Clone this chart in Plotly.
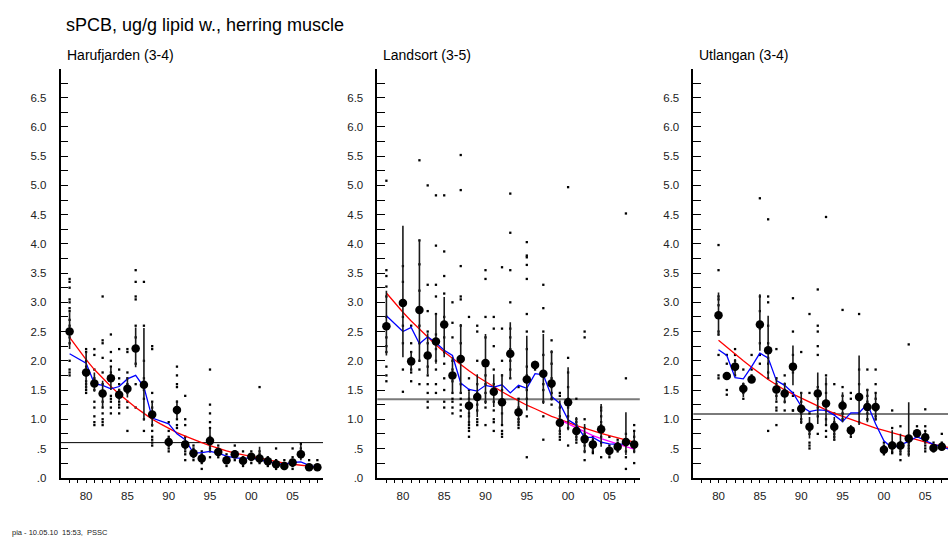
import plotly.graph_objects as go

# ---------------- data ----------------
title_text = "sPCB, ug/g lipid w., herring muscle"
panel_titles = ["Harufjarden (3-4)", "Landsort (3-5)", "Utlangan (3-4)"]
footer_text = "pia - 10.05.10\u00a0\u00a015:53,\u00a0\u00a0PSSC"

x_tick_vals = [1980, 1985, 1990, 1995, 2000, 2005]
x_tick_text = ["80", "85", "90", "95", "00", "05"]
x_minor_vals = list(range(1978, 2009))
y_tick_vals = [0, 0.5, 1.0, 1.5, 2.0, 2.5, 3.0, 3.5, 4.0, 4.5, 5.0, 5.5, 6.0, 6.5]
y_tick_text = [".0", ".5", "1.0", "1.5", "2.0", "2.5", "3.0", "3.5", "4.0", "4.5", "5.0", "5.5", "6.0", "6.5"]
y_minor_vals = [0.25, 0.75, 1.25, 1.75, 2.25, 2.75, 3.25, 3.75, 4.25, 4.75, 5.25, 5.75, 6.25, 6.75]

# ---- Harufjarden ----
h_years = [1978, 1980, 1981, 1982, 1983, 1984, 1985, 1986, 1987, 1988,
           1990, 1991, 1992, 1993, 1994, 1995, 1996, 1997, 1998, 1999,
           2000, 2001, 2002, 2003, 2004, 2005, 2006, 2007, 2008]
h_mean = [2.50, 1.80, 1.61, 1.44, 1.70, 1.42, 1.52, 2.21, 1.59, 1.08,
          0.61, 1.16, 0.57, 0.42, 0.33, 0.63, 0.44, 0.30, 0.40, 0.29,
          0.36, 0.33, 0.28, 0.23, 0.20, 0.26, 0.40, 0.18, 0.18]
h_hi = [2.83, 2.15, 1.80, 1.66, 1.89, 1.52, 1.72, 2.57, 2.56, 1.30,
        0.70, 1.32, 0.68, 0.50, 0.40, 0.84, 0.50, 0.34, 0.45, 0.34,
        0.42, 0.53, 0.33, 0.27, 0.25, 0.30, 0.56, 0.22, 0.22]
h_lo = [2.20, 1.52, 1.47, 1.21, 1.50, 1.32, 1.37, 1.89, 0.98, 0.87,
        0.52, 1.01, 0.48, 0.36, 0.27, 0.45, 0.38, 0.26, 0.35, 0.25,
        0.31, 0.25, 0.24, 0.19, 0.17, 0.22, 0.30, 0.15, 0.14]
h_samples = [
    [3.4, 3.35, 3.25, 3.05, 3.0, 2.9, 2.85, 2.7, 2.6, 2.4, 2.3, 2.0, 1.85, 1.8, 1.75],
    [2.2, 2.15, 2.0, 1.9, 1.75, 1.65, 1.6, 1.55, 1.5, 1.45],
    [2.2, 2.1, 1.85, 1.7, 1.6, 1.5, 1.3, 1.2, 1.05, 0.95, 0.9],
    [3.1, 2.35, 2.3, 2.05, 1.8, 1.6, 1.3, 1.2, 1.1, 1.0, 0.95, 0.9],
    [2.45, 2.15, 2.0, 1.9, 1.8, 1.4, 1.35, 1.3, 1.2, 1.1],
    [2.2, 1.85, 1.7, 1.6, 1.5, 1.4, 1.3, 1.25, 1.2, 1.1],
    [2.2, 2.15, 1.8, 1.7, 1.6, 1.45, 1.3, 1.2, 0.8],
    [3.55, 3.35, 3.1, 3.05, 2.6, 2.4, 2.2, 1.95, 1.6, 1.2],
    [3.35, 2.6, 2.0, 1.7, 1.5, 1.35, 1.0, 0.8],
    [2.25, 2.2, 1.45, 1.3, 1.2, 1.1, 0.9, 0.8, 0.7, 0.65, 0.6, 0.55],
    [0.95, 0.8, 0.7, 0.65, 0.6, 0.55, 0.5, 0.45],
    [1.9, 1.75, 1.6, 1.55, 1.3, 1.2, 1.1, 1.0, 0.9, 0.85],
    [1.4, 1.0, 0.9, 0.7, 0.55, 0.5, 0.45, 0.4, 0.3],
    [0.55, 0.5, 0.45, 0.4, 0.35, 0.3],
    [0.45, 0.4, 0.35, 0.3, 0.25, 0.15],
    [1.85, 1.25, 1.1, 0.95, 0.85, 0.7, 0.55, 0.5, 0.45, 0.35],
    [0.55, 0.5, 0.45, 0.4, 0.35],
    [0.4, 0.35, 0.3, 0.25, 0.2],
    [0.55, 0.45, 0.4, 0.35, 0.3],
    [0.45, 0.35, 0.3, 0.25, 0.2],
    [0.45, 0.4, 0.35, 0.3, 0.25],
    [1.55, 0.45, 0.4, 0.35, 0.3, 0.25],
    [0.35, 0.3, 0.25, 0.2],
    [0.5, 0.3, 0.25, 0.2, 0.15],
    [0.3, 0.25, 0.2, 0.15],
    [0.5, 0.35, 0.3, 0.25, 0.2, 0.15],
    [0.58, 0.5, 0.45, 0.4, 0.35],
    [0.3, 0.2, 0.15],
    [0.3, 0.2, 0.15],
]
h_blue = [2.12, 1.96, 1.61, 1.58, 1.52, 1.56, 1.69, 1.75, 1.55, 1.02,
          0.92, 0.75, 0.65, 0.42, 0.43, 0.45, 0.42, 0.37, 0.34, 0.33,
          0.34, 0.31, 0.27, 0.24, 0.23, 0.26, 0.27, 0.21, 0.18]
h_red_years = list(range(1978, 2009))
h_red = [2.40, 2.20, 2.02, 1.85, 1.70, 1.56, 1.43, 1.31, 1.20, 1.10,
         1.00, 0.92, 0.84, 0.77, 0.71, 0.65, 0.60, 0.55, 0.50, 0.46,
         0.42, 0.39, 0.36, 0.33, 0.30, 0.27, 0.25, 0.23, 0.21, 0.19, 0.18]
h_ref = 0.60

# ---- Landsort ----
l_years = [1978, 1980, 1981, 1982, 1983, 1984, 1985, 1986, 1987, 1988,
           1989, 1990, 1991, 1992, 1993, 1994, 1995, 1996, 1997, 1998,
           1999, 2000, 2001, 2002, 2003, 2004, 2005, 2006, 2007, 2008]
l_mean = [2.59, 2.99, 1.99, 2.87, 2.09, 2.33, 2.62, 1.75, 2.03, 1.23,
          1.38, 1.96, 1.47, 1.29, 2.12, 1.12, 1.68, 1.93, 1.78, 1.61,
          0.94, 1.29, 0.80, 0.66, 0.57, 0.83, 0.46, 0.53, 0.61, 0.57]
l_hi = [3.20, 4.31, 2.16, 4.06, 2.47, 2.80, 3.09, 2.06, 2.63, 1.48,
        1.77, 2.46, 1.77, 1.77, 2.66, 1.35, 2.43, 2.00, 2.46, 2.18,
        1.32, 1.89, 1.04, 0.92, 0.68, 1.26, 0.52, 0.58, 1.12, 0.78]
l_lo = [2.09, 2.06, 1.83, 2.00, 1.77, 1.95, 2.06, 1.46, 1.44, 0.92,
        1.04, 1.26, 1.21, 0.92, 1.69, 0.92, 1.15, 1.88, 1.26, 1.32,
        0.73, 0.81, 0.64, 0.42, 0.45, 0.53, 0.38, 0.47, 0.39, 0.42]
l_samples = [
    [5.08, 3.55, 3.45, 3.27, 3.1, 2.75, 2.55, 2.4, 2.25, 2.15, 1.9, 1.75, 1.65],
    [3.62, 3.35, 3.0, 2.75, 2.6, 2.3, 1.85, 1.47],
    [2.6, 2.3, 2.15, 2.05, 1.85, 1.8, 1.65],
    [5.43, 4.06, 3.65, 3.2, 2.9, 2.6, 2.3, 2.0, 1.85, 1.6],
    [5.0, 3.3, 2.85, 2.5, 2.3, 2.05, 1.9, 1.75, 1.6, 1.45, 1.3, 1.2],
    [4.83, 3.97, 3.3, 3.1, 2.8, 2.45, 2.2, 2.0, 1.85, 1.6, 1.45],
    [4.83, 3.87, 3.45, 3.15, 2.75, 2.4, 2.15, 1.95, 1.7, 1.5, 1.3, 1.2],
    [3.0, 2.65, 2.4, 2.0, 1.85, 1.65, 1.45, 1.35, 1.3, 1.2, 1.1],
    [5.52, 4.92, 3.62, 3.1, 3.05, 2.6, 2.3, 2.0, 1.6, 1.45, 1.35, 1.25, 1.15, 1.05],
    [2.75, 1.7, 1.5, 1.35, 1.2, 1.1, 1.05, 0.95, 0.9, 0.85, 0.8, 0.7],
    [2.6, 2.5, 2.0, 1.6, 1.45, 1.35, 1.25, 1.15, 1.0, 0.95, 0.9],
    [3.55, 3.4, 2.75, 2.4, 1.95, 1.75, 1.6, 1.45, 1.3, 1.2, 0.9],
    [2.75, 2.55, 2.25, 1.85, 1.6, 1.45, 1.3, 1.15, 1.0, 0.95, 0.8],
    [3.6, 2.55, 2.0, 1.75, 1.5, 1.3, 1.1, 0.9, 0.8, 0.75, 0.7],
    [4.86, 4.19, 3.55, 3.0, 2.55, 2.4, 2.2, 2.0, 1.85, 1.7],
    [1.55, 1.35, 1.2, 1.1, 1.0, 0.95, 0.9, 0.85],
    [4.03, 3.8, 3.77, 3.64, 3.4, 2.8, 2.5, 2.2, 1.9, 1.75, 1.5, 1.35, 1.05, 0.35],
    [1.95, 1.9, 1.85],
    [3.3, 2.9, 2.5, 2.1, 1.8, 1.6, 1.5, 1.3, 1.05, 0.65],
    [2.35, 2.15, 1.95, 1.7, 1.55, 1.45, 1.35, 1.25],
    [1.45, 1.4, 1.2, 1.05, 0.9, 0.8, 0.75, 0.7, 0.65],
    [4.97, 2.05, 1.8, 1.55, 1.35, 1.2, 1.05, 0.95, 0.85, 0.55],
    [1.35, 1.0, 0.95, 0.9, 0.85, 0.8, 0.75, 0.7, 0.65, 0.6],
    [2.5, 2.4, 1.0, 0.85, 0.75, 0.7, 0.65, 0.6, 0.55, 0.45, 0.3],
    [0.7, 0.65, 0.6, 0.55, 0.5, 0.45, 0.42],
    [1.2, 1.15, 1.05, 0.95, 0.9, 0.8, 0.7, 0.6, 0.35],
    [0.7, 0.55, 0.5, 0.45, 0.4, 0.35],
    [0.65, 0.6, 0.55, 0.5, 0.45],
    [4.52, 1.7, 0.75, 0.65, 0.55, 0.45, 0.35, 0.15],
    [0.9, 0.8, 0.7, 0.6, 0.5, 0.45, 0.25],
]
l_blue = [2.77, 2.50, 2.57, 2.29, 2.41, 2.31, 2.18, 2.09, 1.62, 1.51,
          1.48, 1.58, 1.55, 1.59, 1.45, 1.58, 1.53, 1.78, 1.76, 1.39,
          1.27, 0.99, 0.90, 0.69, 0.69, 0.61, 0.58, 0.57, 0.58, 0.59]
l_red_years = list(range(1978, 2009))
l_red = [3.16, 2.99, 2.83, 2.68, 2.54, 2.40, 2.27, 2.15, 2.04, 1.93,
         1.83, 1.73, 1.64, 1.55, 1.47, 1.39, 1.31, 1.24, 1.18, 1.11,
         1.05, 1.00, 0.94, 0.89, 0.85, 0.80, 0.76, 0.72, 0.68, 0.64, 0.61]
l_mag_years = list(range(1999, 2009))
l_mag = [0.99, 0.92, 0.85, 0.78, 0.72, 0.67, 0.62, 0.57, 0.53, 0.49]
l_ref = 1.34

# ---- Utlangan ----
u_years = list(range(1980, 2009))
u_mean = [2.78, 1.74, 1.90, 1.52, 1.68, 2.62, 2.18, 1.51, 1.44, 1.90,
          1.18, 0.87, 1.44, 1.27, 0.87, 1.23, 0.81, 1.38, 1.21, 1.21,
          0.48, 0.55, 0.55, 0.67, 0.76, 0.69, 0.51, 0.53, 0.46]
u_hi = [3.17, 1.80, 2.03, 1.63, 1.74, 3.14, 2.77, 1.72, 1.63, 2.26,
        1.46, 1.04, 1.80, 1.72, 1.04, 1.46, 0.90, 2.09, 1.52, 1.43,
        0.55, 0.81, 0.75, 1.29, 0.82, 0.78, 0.58, 0.60, 0.52]
u_lo = [2.43, 1.68, 1.75, 1.38, 1.62, 2.17, 1.69, 1.32, 1.27, 1.58,
        0.92, 0.67, 0.92, 0.92, 0.64, 0.95, 0.70, 0.90, 0.95, 0.98,
        0.40, 0.45, 0.41, 0.36, 0.70, 0.60, 0.44, 0.47, 0.40]
u_samples = [
    [3.98, 3.55, 3.1, 3.05, 2.95, 2.75, 2.5, 2.45, 2.1, 1.75, 1.7],
    [2.1, 1.95, 1.75, 1.5, 1.42],
    [2.2, 2.1, 2.0, 1.9, 1.85, 1.75],
    [1.85, 1.6, 1.5, 1.45, 1.35],
    [2.1, 1.85, 1.75, 1.7],
    [7.51, 4.78, 3.1, 2.85, 2.65, 2.6, 2.55, 2.3, 2.1, 1.95],
    [4.42, 3.1, 3.0, 2.6, 2.3, 2.15, 2.05, 1.95, 1.8, 1.7, 0.8],
    [2.2, 1.7, 1.6, 1.5, 1.4, 1.3, 1.2, 1.15, 0.9],
    [1.75, 1.6, 1.5, 1.4, 1.3, 1.15],
    [3.07, 2.5, 2.1, 1.8, 1.45, 1.4, 1.15, 1.15],
    [2.15, 1.45, 1.3, 1.2, 1.1, 1.0, 0.95],
    [2.8, 1.45, 1.1, 0.9, 0.8, 0.75, 0.6, 0.55, 0.5],
    [3.22, 2.6, 2.5, 2.25, 2.1, 1.55, 1.45, 1.35, 1.2, 1.05, 0.75],
    [4.46, 1.75, 1.6, 1.45, 1.3, 1.15, 1.0, 0.9, 0.8, 0.7],
    [1.6, 1.1, 0.95, 0.85, 0.8, 0.75, 0.7, 0.65],
    [2.87, 1.55, 1.4, 1.3, 1.2, 1.1, 1.0],
    [1.45, 1.35, 0.85, 0.8, 0.75, 0.7],
    [2.8, 1.85, 1.6, 1.4, 1.1, 0.95],
    [1.85, 1.5, 1.4, 1.3, 1.2, 1.1, 1.0],
    [1.85, 1.6, 1.45, 1.35, 1.25, 1.15, 1.05, 1.0],
    [0.6, 0.55, 0.5, 0.45, 0.4],
    [1.15, 0.85, 0.6, 0.55, 0.5, 0.45, 0.42],
    [0.88, 0.6, 0.55, 0.5, 0.45, 0.4, 0.3],
    [2.28, 0.7, 0.65, 0.6, 0.55, 0.5, 0.45, 0.4],
    [0.88, 0.8, 0.75, 0.7],
    [1.17, 0.88, 0.8, 0.7, 0.65, 0.6, 0.55, 0.5, 0.45],
    [0.6, 0.55, 0.5, 0.45],
    [0.75, 0.6, 0.55, 0.5],
    [0.7, 0.55, 0.45],
]
u_blue = [2.19, 2.09, 1.71, 1.69, 1.90, 2.13, 2.05, 1.66, 1.58, 1.45,
          1.22, 1.13, 1.16, 1.15, 1.07, 0.96, 1.11, 1.11, 1.26, 0.92,
          0.63, 0.51, 0.56, 0.62, 0.70, 0.64, 0.57, 0.53, 0.48]
u_red_years = list(range(1980, 2009))
u_red = [2.35, 2.23, 2.11, 2.00, 1.89, 1.78, 1.68, 1.59, 1.50, 1.43,
         1.36, 1.29, 1.22, 1.16, 1.10, 1.05, 0.99, 0.94, 0.90, 0.85,
         0.81, 0.77, 0.73, 0.69, 0.64, 0.61, 0.57, 0.54, 0.51]
u_ref = 1.09

# ---------------- layout geometry (pixels) ----------------
W, H = 948, 541
FONT = "Liberation Sans, Arial, sans-serif"

panels = [
    dict(years=h_years, mean=h_mean, hi=h_hi, lo=h_lo, samples=h_samples,
         blue=h_blue, red_years=h_red_years, red=h_red, mag_years=None, mag=None,
         ref=h_ref, refcolor="#000000", refwidth=1.0,
         px=(60.5, 323.0), xr=(1976.9, 2008.68), title_x=65),
    dict(years=l_years, mean=l_mean, hi=l_hi, lo=l_lo, samples=l_samples,
         blue=l_blue, red_years=l_red_years, red=l_red, mag_years=l_mag_years, mag=l_mag,
         ref=l_ref, refcolor="#7a7a7a", refwidth=2.0,
         px=(377.3, 639.8), xr=(1976.9, 2008.68), title_x=381),
    dict(years=u_years, mean=u_mean, hi=u_hi, lo=u_lo, samples=u_samples,
         blue=u_blue, red_years=u_red_years, red=u_red, mag_years=None, mag=None,
         ref=u_ref, refcolor="#7a7a7a", refwidth=2.0,
         px=(693.3, 948.0), xr=(1976.95, 2007.75), title_x=697),
]

y_top_px, y_bot_px = 68.5, 477.7
ydom = [1 - y_bot_px / H, 1 - y_top_px / H]

fig = go.Figure()
layout = dict(
    template="none",
    width=W, height=H,
    margin=dict(l=0, r=0, t=0, b=0, pad=0, autoexpand=False),
    paper_bgcolor="white", plot_bgcolor="white",
    showlegend=False,
    font=dict(family=FONT, color="black", size=12),
)
shapes = []
annotations = []

for i, p in enumerate(panels):
    n = "" if i == 0 else str(i + 1)
    xa, ya = "x" + n, "y" + n
    # individual samples
    sx, sy = [], []
    for yr, vals in zip(p["years"], p["samples"]):
        for v in vals:
            sx.append(yr)
            sy.append(v)
    fig.add_trace(go.Scatter(x=sx, y=sy, mode="markers", xaxis=xa, yaxis=ya,
                             marker=dict(symbol="square", size=2.3, color="black",
                                         line=dict(width=0)),
                             cliponaxis=False, hoverinfo="skip"))
    # red trend
    fig.add_trace(go.Scatter(x=p["red_years"], y=p["red"], mode="lines", xaxis=xa, yaxis=ya,
                             line=dict(color="#ff0000", width=1.3), cliponaxis=False))
    # magenta recent trend
    if p["mag"] is not None:
        fig.add_trace(go.Scatter(x=p["mag_years"], y=p["mag"], mode="lines", xaxis=xa, yaxis=ya,
                                 line=dict(color="#ff00ff", width=1.3), cliponaxis=False))
    # blue smoother
    fig.add_trace(go.Scatter(x=p["years"], y=p["blue"], mode="lines", xaxis=xa, yaxis=ya,
                             line=dict(color="#0000ff", width=1.3), cliponaxis=False))
    # yearly means with intervals
    up = [h - m for h, m in zip(p["hi"], p["mean"])]
    dn = [m - l for m, l in zip(p["mean"], p["lo"])]
    fig.add_trace(go.Scatter(x=p["years"], y=p["mean"], mode="markers", xaxis=xa, yaxis=ya,
                             marker=dict(symbol="circle", size=8.5, color="black",
                                         line=dict(width=0)),
                             error_y=dict(type="data", symmetric=False, array=up, arrayminus=dn,
                                          color="#1a1a1a", thickness=1.6, width=0),
                             cliponaxis=False))
    # reference level
    shapes.append(dict(type="line", xref=xa + " domain", yref=ya, x0=0, x1=1,
                       y0=p["ref"], y1=p["ref"], layer="below",
                       line=dict(color=p["refcolor"], width=p["refwidth"])))

    xdom = [p["px"][0] / W, p["px"][1] / W]
    layout["xaxis" + n] = dict(
        domain=xdom, range=list(p["xr"]), anchor=ya,
        automargin=False,
        showline=True, linecolor="black", linewidth=1.5,
        showgrid=False, zeroline=False,
        tickmode="array", tickvals=x_tick_vals, ticktext=x_tick_text,
        ticks="outside", ticklen=4, tickwidth=1, tickcolor="black",
        minor=dict(tickmode="array", tickvals=x_minor_vals, ticks="outside",
                   ticklen=4, tickwidth=1, tickcolor="black", showgrid=False),
        tickfont=dict(family=FONT, size=11.5, color="#222"),
        ticklabelstandoff=3,
        fixedrange=True,
    )
    layout["yaxis" + n] = dict(
        domain=ydom, range=[0, 7], anchor=xa,
        automargin=False,
        showline=True, linecolor="black", linewidth=1.5,
        showgrid=False, zeroline=False,
        tickmode="array", tickvals=y_tick_vals, ticktext=y_tick_text,
        ticks="inside", ticklen=8, tickwidth=1, tickcolor="black",
        minor=dict(tickmode="array", tickvals=y_minor_vals, ticks="inside",
                   ticklen=8, tickwidth=1, tickcolor="black", showgrid=False),
        tickfont=dict(family=FONT, size=11.5, color="#222"),
        ticklabelstandoff=10,
        fixedrange=True,
    )
    annotations.append(dict(text=panel_titles[i], xref="paper", yref="paper",
                            x=p["title_x"] / W, y=1 - 55 / H, xanchor="left", yanchor="middle",
                            showarrow=False, font=dict(family=FONT, size=14, color="black")))

annotations.append(dict(text=title_text, xref="paper", yref="paper",
                        x=64 / W, y=1 - 25 / H, xanchor="left", yanchor="middle",
                        showarrow=False, font=dict(family=FONT, size=18, color="black")))
annotations.append(dict(text=footer_text, xref="paper", yref="paper",
                        x=10 / W, y=1 - 532 / H, xanchor="left", yanchor="middle",
                        showarrow=False, font=dict(family=FONT, size=7.5, color="#222")))

layout["shapes"] = shapes
layout["annotations"] = annotations
fig.update_layout(**layout)

fig.write_html("out.html", config=dict(displayModeBar=False),
               post_script="document.body.style.margin='0';document.body.style.overflow='hidden';")
